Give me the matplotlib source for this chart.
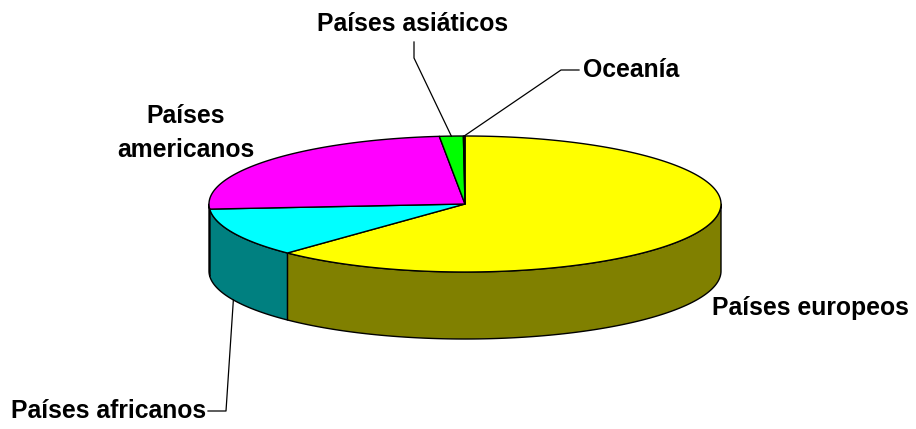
import numpy as np
import matplotlib
matplotlib.use("Agg")
import matplotlib.pyplot as plt
from matplotlib.patches import Polygon

# ---- data ----
categories = ["Países europeos", "Países africanos", "Países americanos",
              "Países asiáticos", "Oceanía"]
values = [62.2, 11.6, 24.6, 1.5, 0.1]
top_colors = ["#FFFF00", "#00FFFF", "#FF00FF", "#00FF00", "#800000"]
side_colors = ["#808000", "#008080", "#800080", "#008000", "#400000"]

# ---- layout (pixel space) ----
W, H = 916, 429
CX, CY, RX, RY, DEPTH = 465, 204, 256, 68, 67
FONT = dict(family="Liberation Sans", weight="bold", size=17.8, color="black")

fig = plt.figure(figsize=(W / 100, H / 100), dpi=100)
ax = fig.add_axes([0, 0, 1, 1])
ax.set_xlim(0, W)
ax.set_ylim(H, 0)
ax.axis("off")


def pt(t, dz=0.0):
    r = np.radians(t)
    return CX + RX * np.cos(r), CY - RY * np.sin(r) + dz


def arc(a, b, dz=0.0, n=None):
    n = n or max(3, int(abs(b - a) * 2) + 2)
    ts = np.linspace(a, b, n)
    r = np.radians(ts)
    return np.column_stack([CX + RX * np.cos(r), CY - RY * np.sin(r) + dz])


total = float(sum(values))
cum = np.concatenate([[0], np.cumsum(values)]) / total
starts = 90 - cum[:-1] * 360
ends = 90 - cum[1:] * 360
mids = (starts + ends) / 2

# side walls (front half only: angles in [-180, 0] modulo 360)
for s, e, sc in zip(starts, ends, side_colors):
    hi, lo = s, e
    for off in (-360, 0, 360):
        a, b = max(lo, -180 + off), min(hi, 0 + off)
        if b - a > 1e-6:
            top = arc(b, a)
            bot = arc(a, b, DEPTH)
            poly = Polygon(np.vstack([top, bot]), closed=True, facecolor=sc,
                           edgecolor="black", lw=1.0, joinstyle="round")
            ax.add_patch(poly)

# top faces
for s, e, tc in zip(starts, ends, top_colors):
    pts = np.vstack([[CX, CY], arc(s, e)])
    ax.add_patch(Polygon(pts, closed=True, facecolor=tc, edgecolor="black",
                         lw=1.0, joinstyle="round"))

# ---- labels ----
# europeos
ax.text(712, 315, categories[0], ha="left", va="baseline", **FONT)
# americanos (no leader)
ax.text(186, 123, "Países", ha="center", va="baseline", **FONT)
ax.text(186, 157, "americanos", ha="center", va="baseline", **FONT)

# africanos with leader to bottom rim of slice middle
ax.text(206, 418, categories[1], ha="right", va="baseline", **FONT)
x1, y1 = pt(mids[1], DEPTH)
ax.plot([208, 226, x1], [411, 411, y1], color="black", lw=0.9)

# asiáticos with leader to top rim
ax.text(413, 31, categories[3], ha="center", va="baseline", **FONT)
x3, y3 = pt(mids[3])
ax.plot([414, 414, x3], [42, 58, y3], color="black", lw=0.9)

# Oceanía with leader
ax.text(583, 77, categories[4], ha="left", va="baseline", **FONT)
x4, y4 = pt(mids[4])
ax.plot([579, 561, x4], [70, 70, y4], color="black", lw=0.9)

fig.savefig("out.png", dpi=100, facecolor="white")
